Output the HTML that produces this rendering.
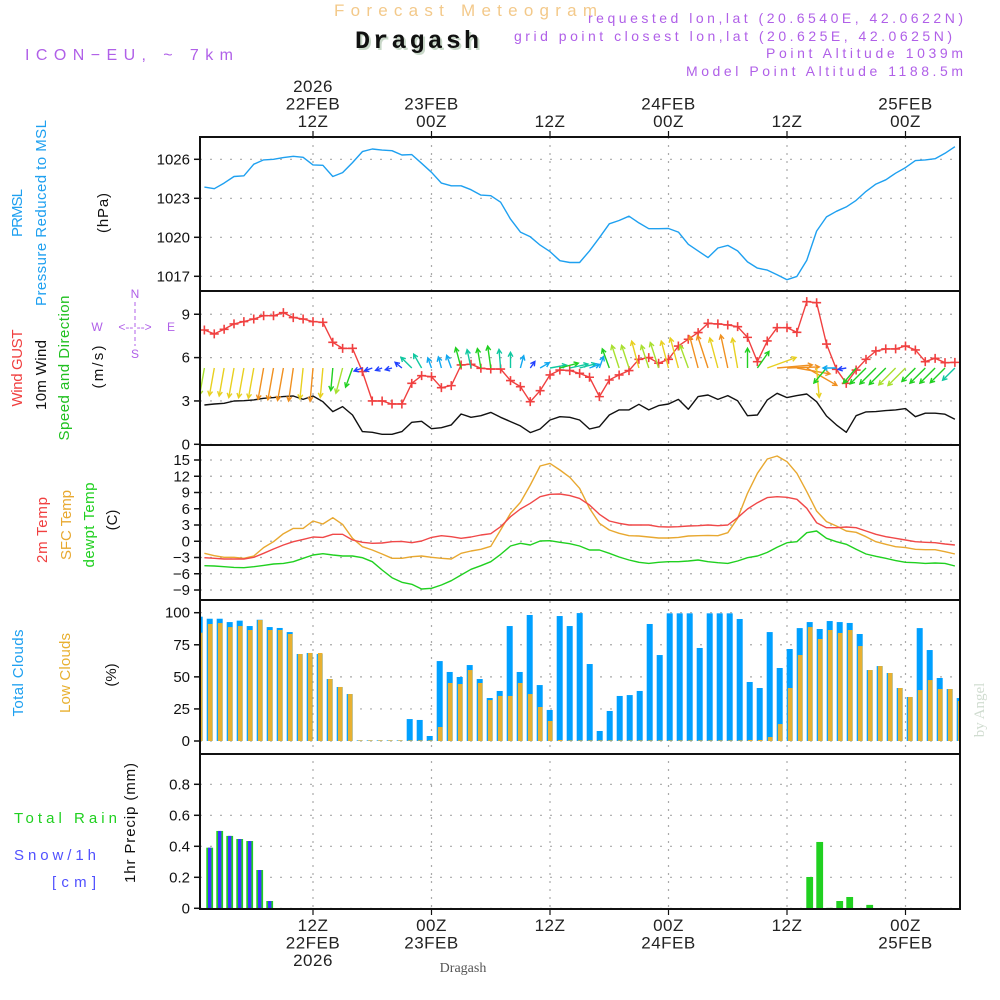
<!DOCTYPE html>
<html><head><meta charset="utf-8">
<style>
html,body{margin:0;padding:0;background:#fff;}
svg{display:block;font-family:"Liberation Sans",sans-serif;}
</style></head>
<body>
<svg id="chart" width="1000" height="1000" viewBox="0 0 1000 1000" xmlns="http://www.w3.org/2000/svg">
<defs><clipPath id="plotclip"><rect x="201" y="137" width="758" height="772"/></clipPath></defs>
<text x="334" y="16" font-size="17" fill="#f3c98a" textLength="263">Forecast Meteogram</text>
<text x="357" y="50" font-size="25" font-weight="bold" font-family="Liberation Mono, monospace" fill="#c8d8c8" textLength="124">Dragash</text>
<text x="355" y="48" font-size="25" font-weight="bold" font-family="Liberation Mono, monospace" fill="#111" textLength="124">Dragash</text>
<text x="25" y="60" font-size="16" fill="#b060e8" textLength="208">ICON−EU, ~ 7km</text>
<text x="588" y="23" font-size="14" fill="#b060e8" textLength="375">requested lon,lat (20.6540E, 42.0622N)</text>
<text x="514" y="41" font-size="14" fill="#b060e8" textLength="438">grid point closest lon,lat (20.625E, 42.0625N)</text>
<text x="766" y="58" font-size="14" fill="#b060e8" textLength="197">Point Altitude 1039m</text>
<text x="686" y="76" font-size="14" fill="#b060e8" textLength="277">Model Point Altitude 1188.5m</text>
<text x="463" y="972" font-size="14" fill="#555" font-family="Liberation Serif, serif" text-anchor="middle">Dragash</text>
<text transform="translate(984,710) rotate(-90)" font-size="15" fill="#d0dcd0" font-family="Liberation Serif, serif" text-anchor="middle">by Angel</text>
<g font-size="15">
<text transform="translate(22,213) rotate(-90)" fill="#1ea0f0" text-anchor="middle" textLength="48">PRMSL</text>
<text transform="translate(46,213) rotate(-90)" fill="#1ea0f0" text-anchor="middle" textLength="186">Pressure Reduced to MSL</text>
<text transform="translate(108,213) rotate(-90)" fill="#111" text-anchor="middle" textLength="40">(hPa)</text>
<text transform="translate(22,368) rotate(-90)" fill="#f04040" text-anchor="middle" textLength="77">Wind GUST</text>
<text transform="translate(46,375) rotate(-90)" fill="#111" text-anchor="middle" textLength="70">10m Wind</text>
<text transform="translate(69,368) rotate(-90)" fill="#20c020" text-anchor="middle" textLength="145">Speed and Direction</text>
<text transform="translate(103,367) rotate(-90)" fill="#111" text-anchor="middle" textLength="43">(m/s)</text>
<text transform="translate(47,530) rotate(-90)" fill="#f04040" text-anchor="middle" textLength="66">2m Temp</text>
<text transform="translate(71,525) rotate(-90)" fill="#e8a830" text-anchor="middle" textLength="70">SFC Temp</text>
<text transform="translate(94,525) rotate(-90)" fill="#20d020" text-anchor="middle" textLength="85">dewpt Temp</text>
<text transform="translate(117,520) rotate(-90)" fill="#111" text-anchor="middle">(C)</text>
<text transform="translate(23,673) rotate(-90)" fill="#1ea0f0" text-anchor="middle" textLength="87">Total Clouds</text>
<text transform="translate(70,673) rotate(-90)" fill="#e8b030" text-anchor="middle" textLength="80">Low Clouds</text>
<text transform="translate(116,675) rotate(-90)" fill="#111" text-anchor="middle">(%)</text>
<text transform="translate(135,823) rotate(-90)" fill="#111" text-anchor="middle" textLength="120">1hr Precip (mm)</text>
</g>
<text x="14" y="823" font-size="15" fill="#20d020" textLength="103">Total   Rain</text>
<text x="14" y="860" font-size="15" fill="#5050ff" textLength="82">Snow/1h</text>
<text x="52" y="887" font-size="15" fill="#5050ff" textLength="44">[cm]</text>
<g font-size="12" fill="#b060e8" text-anchor="middle">
<text x="135" y="298">N</text><text x="135" y="358">S</text><text x="97" y="331">W</text><text x="171" y="331">E</text>
<text x="135" y="331">&lt;-- --&gt;</text>
<line x1="135" y1="302" x2="135" y2="346" stroke="#b060e8" stroke-dasharray="4,3"/>
</g>
</svg>
<script>
// ---- data (hours 1..77 after 00Z 22FEB 2026) ----
var pressure = [1023.86,1023.74,1024.17,1024.68,1024.73,1025.62,1025.95,1026.0,1026.13,1026.23,
1026.15,1025.57,1025.54,1024.68,1024.98,1025.75,1026.59,1026.79,1026.71,1026.66,
1026.33,1026.36,1025.69,1025.0,1024.17,1023.96,1023.96,1023.66,1023.25,1023.2,
1022.7,1021.4,1020.4,1020.04,1019.4,1018.9,1018.2,1018.06,1018.06,1018.95,
1019.97,1021.04,1021.29,1021.62,1021.11,1020.66,1020.66,1020.68,1020.4,1019.46,
1018.95,1018.44,1019.18,1019.38,1018.95,1018.11,1017.63,1017.48,1017.12,1016.74,
1016.99,1018.24,1020.48,1021.57,1022.0,1022.34,1022.84,1023.53,1024.09,1024.42,
1024.93,1025.36,1025.9,1025.95,1026.05,1026.46,1026.97];
var gust = [7.91,7.64,7.96,8.33,8.49,8.67,8.9,8.9,9.11,8.77,
8.67,8.49,8.44,7.06,6.64,6.64,5.03,3.0,3.0,2.79,
2.79,4.22,4.75,4.68,3.92,4.06,5.49,5.54,5.26,5.21,
5.21,4.41,3.99,2.95,3.71,4.8,5.14,5.1,4.91,4.64,
3.3,4.45,4.8,5.1,5.88,6.0,5.61,5.88,6.8,7.27,
7.73,8.37,8.33,8.26,8.14,7.4,5.72,7.15,8.07,8.07,
7.75,9.87,9.8,6.94,5.19,4.22,5.14,5.88,6.46,6.6,
6.6,6.8,6.53,5.72,5.95,5.65,5.67];
var windSpeed = [2.72,2.79,2.84,3.0,3.02,3.07,3.18,3.23,3.3,3.34,
3.11,3.34,2.95,2.26,2.61,2.03,0.88,0.83,0.69,0.69,
0.88,1.52,1.59,1.08,1.15,1.34,2.1,1.87,1.98,2.21,
1.87,1.57,1.27,0.81,1.06,1.68,1.91,1.87,1.68,1.06,
1.22,2.03,2.38,2.38,2.77,2.38,2.68,2.79,3.11,2.42,
3.3,3.41,3.11,3.37,3.02,1.98,2.03,3.07,3.53,3.23,
3.37,3.48,2.95,1.96,1.34,0.83,1.98,2.24,2.26,2.33,
2.38,2.47,1.91,2.15,2.15,2.08,1.73];
var windDir = [10,10,10,10,10,10,10,10,10,8,
6,5,5,5,15,20,70,70,70,75,
130,135,150,160,165,160,165,168,170,172,
175,180,195,215,240,260,255,258,255,250,
200,160,162,162,165,162,162,165,165,160,
165,162,165,168,170,180,215,250,265,268,
280,300,355,40,90,80,40,45,45,45,
45,45,45,45,45,45,45];
var temp2m = [-3.03,-3.15,-3.28,-3.28,-3.28,-2.97,-2.23,-1.43,-0.69,-0.08,
0.35,0.78,0.72,1.28,1.28,0.23,-0.2,-0.38,-0.32,-0.08,
-0.02,-0.26,0.05,0.72,1.03,0.85,0.54,0.78,1.15,1.4,
2.69,4.54,5.95,7.0,8.23,8.66,8.72,8.42,7.92,6.69,
4.97,3.74,3.31,3.0,3.0,3.0,2.69,2.63,2.69,2.82,
2.88,3.0,2.88,3.0,4.35,5.95,7.12,8.05,8.23,8.11,
7.74,6.08,3.43,2.51,2.51,2.63,2.51,1.89,1.28,0.85,
0.54,0.23,-0.08,-0.2,-0.26,-0.51,-0.69];
var tempSfc = [-2.23,-2.66,-2.97,-2.97,-3.15,-2.72,-1.18,-0.08,1.4,2.38,
2.38,3.74,3.18,4.35,3.12,0.54,-1.0,-1.62,-2.35,-3.15,
-3.15,-2.85,-2.72,-2.97,-3.15,-3.28,-2.23,-1.8,-1.49,-0.94,
2.08,5.15,7.18,10.38,13.89,14.38,13.15,11.8,9.77,6.08,
3.31,2.08,1.46,1.03,0.97,0.78,0.6,0.6,0.72,0.97,
1.03,1.09,1.03,1.58,4.23,8.85,12.54,15.18,15.74,14.69,
12.54,9.15,5.58,3.62,2.82,1.89,1.65,0.85,-0.08,-0.57,
-1.0,-1.18,-1.49,-1.55,-1.55,-1.92,-2.35];
var dewpt = [-4.51,-4.57,-4.69,-4.82,-4.88,-4.69,-4.45,-4.2,-4.08,-3.77,
-3.15,-2.54,-2.29,-2.54,-2.72,-2.72,-3.03,-3.77,-5.31,-6.72,
-7.58,-7.95,-8.82,-8.69,-8.08,-7.28,-6.23,-5.18,-4.51,-3.77,
-2.42,-0.88,-0.38,-0.69,0.05,0.11,-0.2,-0.45,-0.88,-1.62,
-1.62,-2.23,-2.91,-3.46,-3.89,-4.08,-3.89,-3.77,-3.77,-3.65,
-3.46,-3.77,-3.95,-4.08,-3.65,-3.03,-2.72,-2.05,-1.12,-0.26,
-0.08,1.58,1.89,0.54,-0.08,-0.57,-1.49,-2.35,-2.78,-3.15,
-3.58,-3.89,-3.95,-4.08,-4.02,-4.08,-4.57];
var cloudTotal = [96.9,95.3,95.3,92.7,93.8,89.6,94.5,88.8,88.1,84.9,
67.8,68.6,67.8,48.3,42.1,36.6,0.5,0.5,0.5,0.5,
0.5,17.1,16.4,3.9,62.3,53.8,49.9,59.2,48.3,33.5,
39,89.6,53.8,98.2,43.6,24.2,97.4,89.6,99.7,60,
7.8,23.4,35.1,35.8,39,91.2,67,99.5,99.5,99.5,
72.5,99.5,99.5,99.5,95.1,46,41.3,84.9,56.9,71.7,
88,92.7,87.3,93.5,92.7,92,83.4,55.3,58.4,53,
41.3,34.3,88,70.9,49.1,40.5,33.5];
var cloudLow = [84.4,91.2,91.9,88.8,89.6,86.5,94.3,86.5,86.5,83.4,
67.8,68.6,68.6,48.3,42.1,36.6,0.5,0.5,0.5,0.5,
0.5,0.5,0.5,0.5,10.9,45.2,44.4,55.3,45.2,31.9,
35.1,35.1,45.2,36.6,26.5,15.6,0.8,0.5,0.5,0.5,
0.5,0.5,0.5,0.5,0.5,0.5,0.5,0.5,0.5,0.5,
0.5,0.5,0.5,0.5,0.5,0.8,0.8,3.1,13.2,41.3,
67,88.8,79.5,86.5,84.2,86.5,74,55.3,58.4,53,
41.3,34.3,39.7,47.5,40.5,40.5,31.2];
var rain = [0,0.391,0.499,0.467,0.447,0.434,0.247,0.047,0,0,
0,0,0,0,0,0,0,0,0,0,
0,0,0,0,0,0,0,0,0,0,
0,0,0,0,0,0,0,0,0,0,
0,0,0,0,0,0,0,0,0,0,
0,0,0,0,0,0,0,0,0,0,
0,0.202,0.428,0.003,0.047,0.073,0,0.022,0,0,
0,0,0,0,0,0,0];
var snow = [0,0.391,0.499,0.467,0.447,0.434,0.247,0.047,0,0,
0,0,0,0,0,0,0,0,0,0,
0,0,0,0,0,0,0,0,0,0,
0,0,0,0,0,0,0,0,0,0,
0,0,0,0,0,0,0,0,0,0,
0,0,0,0,0,0,0,0,0,0,
0,0,0,0,0,0,0,0,0,0,
0,0,0,0,0,0,0];
var timeTickHours = [12,24,36,48,60,72];
var topTickLabels = [["2026","22FEB","12Z"],["23FEB","00Z"],["12Z"],["24FEB","00Z"],["12Z"],["25FEB","00Z"]];
var bottomTickLabels = [["12Z","22FEB","2026"],["00Z","23FEB"],["12Z"],["00Z","24FEB"],["12Z"],["00Z","25FEB"]];
var pressureTicks = [1026,1023,1020,1017];
var windTicks = [9,6,3,0];
var tempTicks = [15,12,9,6,3,0,-3,-6,-9];
var cloudTicks = [100,75,50,25,0];
var precipTicks = [0.8,0.6,0.4,0.2,0];

// ---- scales ----
var NS = "http://www.w3.org/2000/svg";
var svg = document.getElementById('chart');
function xL(h){ return 194.5 + h*9.875; }
function xB(h){ return 189.7 + h*10; }
function yP(p){ return 159.3 + (1026-p)*13.0; }
function yW(v){ return 444.3 - v*14.45; }
function yT(t){ return 460 + (15-t)*5.417; }
function yC(c){ return 741 - c*1.283; }
function yR(r){ return 908.3 - r*155; }
function el(tag, attrs, parent){
  var e = document.createElementNS(NS, tag);
  for (var k in attrs) e.setAttribute(k, attrs[k]);
  (parent||svg).appendChild(e);
  return e;
}
var panels = [[137,291],[291,445],[445,600],[600,754],[754,909]];
var L = 200, R = 960;

// grid
var grid = el('g', {stroke:'#aaa','stroke-width':1.2});


function hgrid(ys){ ys.forEach(function(y){
  var g = el('line',{x1:L,x2:R,y1:y,y2:y,'stroke-dasharray':'2,8'},grid);
  
  
});}
hgrid(pressureTicks.map(yP)); hgrid(windTicks.map(yW)); hgrid(tempTicks.map(yT));
hgrid(cloudTicks.map(yC)); hgrid(precipTicks.map(yR));
timeTickHours.forEach(function(h){
  var v = el('line',{x1:xL(h),x2:xL(h),y1:137,y2:909,'stroke-dasharray':'2,6'},grid);
  
  
});

function axisTicks(ticks, yf, fmt){
  ticks.forEach(function(t){
    var y = yf(t);
    var tk = el('line',{x1:194,x2:200,y1:y,y2:y,stroke:'#111','stroke-width':1.5});
    
    
    var tx = el('text',{x:190,y:y+5,'font-size':15,'text-anchor':'end',fill:'#111'});
    tx.textContent = fmt ? fmt(t) : String(t);
    
    
  });
}
axisTicks(pressureTicks, yP); axisTicks(windTicks, yW);
axisTicks(tempTicks, yT, function(t){return t<0?'−'+(-t):String(t);});
axisTicks(cloudTicks, yC); axisTicks(precipTicks, yR, function(t){return t===0?'0':t.toFixed(1);});

// time labels
timeTickHours.forEach(function(h,i){
  var x = xL(h);
  var lt = el('line',{x1:x,x2:x,y1:131,y2:137,stroke:'#111','stroke-width':1.2});
  
  
  var lb = el('line',{x1:x,x2:x,y1:909,y2:915,stroke:'#111','stroke-width':1.2});
  
  
  var top = topTickLabels[i];
  top.forEach(function(s,j){
    var t = el('text',{x:x,y:127-(top.length-1-j)*17.5,'font-size':17,'text-anchor':'middle',fill:'#222','letter-spacing':'0.5'});
    t.textContent = s;
    
    
  });
  bottomTickLabels[i].forEach(function(s,j){
    var t = el('text',{x:x,y:931+j*17.5,'font-size':17,'text-anchor':'middle',fill:'#222','letter-spacing':'0.5'});
    t.textContent = s;
    
    
  });
});

var plot = el('g', {'clip-path':'url(#plotclip)'});



function line(arr, yf, color, name){
  var pts = arr.map(function(v,i){ return xL(i+1).toFixed(1)+','+yf(v).toFixed(1); }).join(' ');
  var p = el('polyline',{points:pts,fill:'none',stroke:color,'stroke-width':1.4,'stroke-linejoin':'round'},plot);
  
  
}
line(pressure, yP, '#1ea0f0', 'pressure-line');
line(windSpeed, yW, '#111', 'wind-speed-line');
line(gust, yW, '#f04040', 'gust-line');
gust.forEach(function(v,i){
  var x = xL(i+1), y = yW(v);
  var m = el('path',{d:'M'+(x-4.5)+' '+y+'H'+(x+4.5)+'M'+x+' '+(y-4.5)+'V'+(y+4.5),stroke:'#f04040','stroke-width':1.6},plot);
  
  
});
function speedColor(v){
  if (v<1) return '#2040ff';
  if (v<1.45) return '#10a8f0';
  if (v<1.9) return '#10c8a0';
  if (v<2.35) return '#20d020';
  if (v<2.75) return '#a8e030';
  if (v<3.15) return '#e8d020';
  return '#f09020';
}
windDir.forEach(function(d,i){
  var v = windSpeed[i], len = v*10, r = d*Math.PI/180;
  var x0 = xL(i+1), y0 = 368;
  var ux = -Math.sin(r), uy = Math.cos(r);
  var x1 = x0+ux*len, y1 = y0+uy*len;
  var hl = 5, a = 0.5;
  var bx = -ux, by = -uy;
  var h1x = x1 + hl*(bx*Math.cos(a)-by*Math.sin(a)), h1y = y1 + hl*(bx*Math.sin(a)+by*Math.cos(a));
  var h2x = x1 + hl*(bx*Math.cos(-a)-by*Math.sin(-a)), h2y = y1 + hl*(bx*Math.sin(-a)+by*Math.cos(-a));
  var ar = el('path',{d:'M'+x0.toFixed(1)+' '+y0+'L'+x1.toFixed(1)+' '+y1.toFixed(1)+'M'+h1x.toFixed(1)+' '+h1y.toFixed(1)+'L'+x1.toFixed(1)+' '+y1.toFixed(1)+'L'+h2x.toFixed(1)+' '+h2y.toFixed(1),stroke:speedColor(v),'stroke-width':1.4,fill:'none'},plot);
  
  
});
line(tempSfc, yT, '#e8a830', 'sfc-temp-line');
line(temp2m, yT, '#f04848', 't2m-line');
line(dewpt, yT, '#20d020', 'dewpoint-line');

cloudTotal.forEach(function(c,i){
  var x = xB(i+1);
  var b = el('rect',{x:x-3,y:yC(c),width:6,height:yC(0)-yC(c),fill:'#00a0ff'},plot);
  
  
  var lc = cloudLow[i];
  var o = el('rect',{x:x-1.8,y:yC(lc),width:4.6,height:yC(0)-yC(lc),fill:'#e8b030'},plot);
  
  
});
rain.forEach(function(r,i){
  if (r<=0) return;
  var x = xB(i+1);
  var b = el('rect',{x:x-3.4,y:yR(r),width:6.8,height:yR(0)-yR(r),fill:'#20d020'},plot);
  
  
});
snow.forEach(function(s,i){
  if (s<=0) return;
  var x = xB(i+1);
  var b = el('rect',{x:x-1.7,y:yR(s),width:3.4,height:yR(0)-yR(s),fill:'#3838ff'},plot);
  
  
});

// frames
panels.forEach(function(p){
  var f = el('rect',{x:L,y:p[0],width:R-L,height:p[1]-p[0],fill:'none',stroke:'#111','stroke-width':2});
  
  
});
</script>
</body></html>
